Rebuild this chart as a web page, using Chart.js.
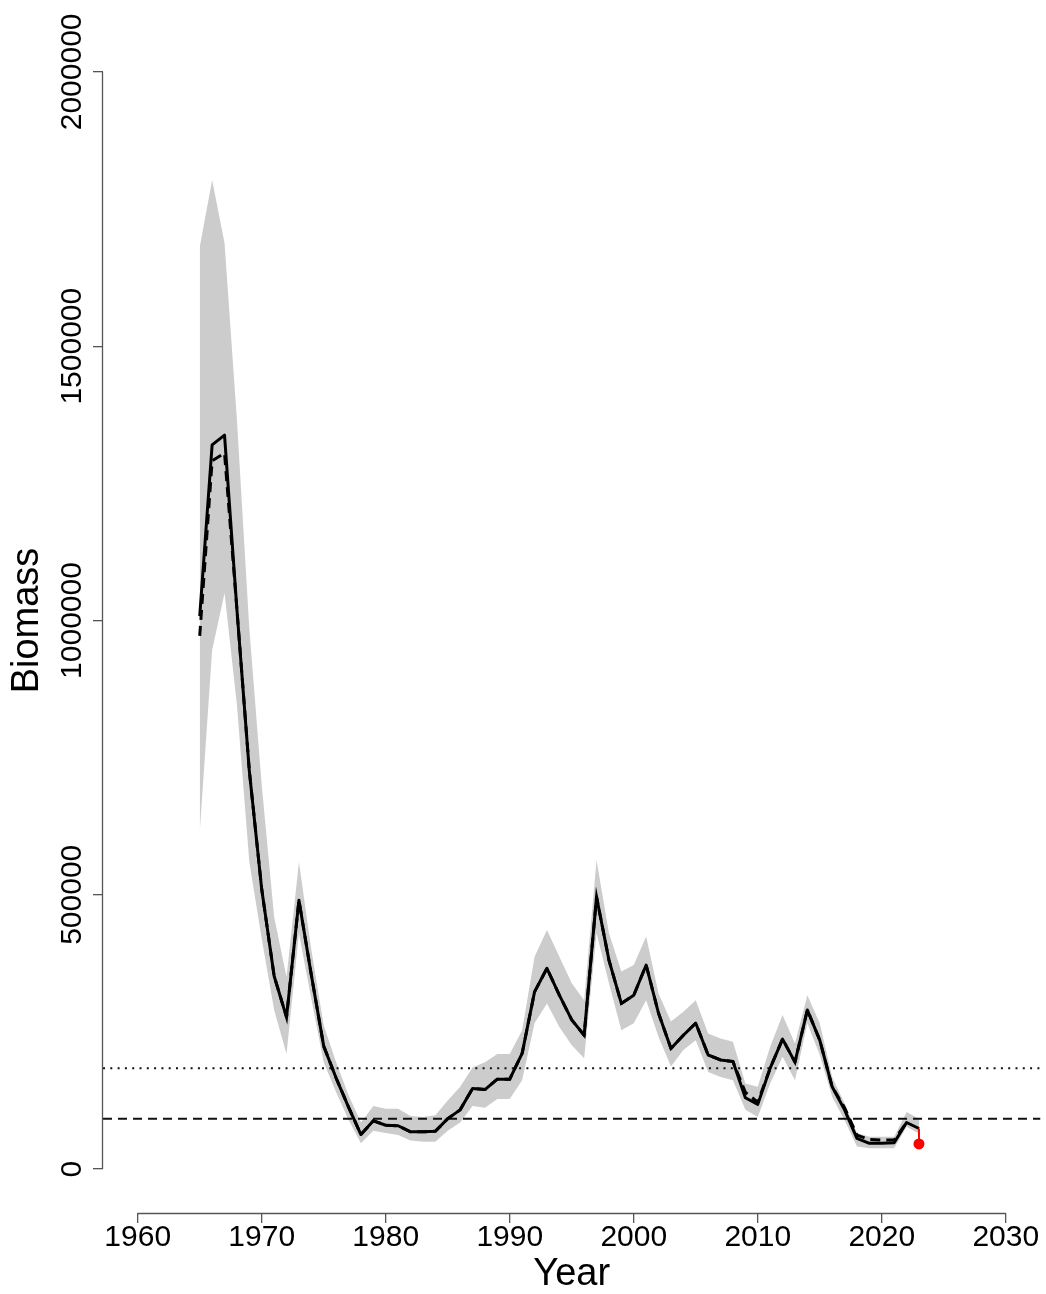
<!DOCTYPE html>
<html>
<head>
<meta charset="utf-8">
<script src="https://cdn.jsdelivr.net/npm/chart.js@4/dist/chart.umd.min.js"></script>
<style>
  html, body { margin: 0; padding: 0; background: #fff; }
  canvas { display: block; }
</style>
</head>
<body>
<canvas id="biomassChart" width="1046" height="1294"></canvas>
<script>
// Years of the assessment
const years = [1965, 1966, 1967, 1968, 1969, 1970, 1971, 1972, 1973, 1974,
  1975, 1976, 1977, 1978, 1979, 1980, 1981, 1982, 1983, 1984,
  1985, 1986, 1987, 1988, 1989, 1990, 1991, 1992, 1993, 1994,
  1995, 1996, 1997, 1998, 1999, 2000, 2001, 2002, 2003, 2004,
  2005, 2006, 2007, 2008, 2009, 2010, 2011, 2012, 2013, 2014,
  2015, 2016, 2017, 2018, 2019, 2020, 2021, 2022, 2023];

// Biomass estimate (solid line)
const biomass = [1008000, 1320000, 1338000, 1020000, 726000, 510000, 352000, 277000, 490000, 354000,
  224000, 166000, 113000, 63000, 88000, 80000, 79000, 68000, 68000, 69000,
  92000, 108000, 147000, 145000, 164000, 164000, 211000, 323000, 366000, 317000,
  272000, 244000, 496000, 381000, 302000, 317000, 372000, 284000, 220000, 244000,
  266000, 208000, 199000, 196000, 130000, 118000, 184000, 237000, 195000, 290000,
  235000, 150000, 108000, 56000, 47000, 47000, 48000, 85000, 74000];

// Upper and lower limits of the grey band
const upperCI = [1681000, 1803000, 1688000, 1366000, 985000, 700000, 460000, 350000, 560000, 400000,
  262000, 195000, 135000, 85000, 115000, 110000, 110000, 97000, 95000, 98000,
  125000, 150000, 185000, 195000, 210000, 210000, 253000, 387000, 436000, 387000,
  339000, 308000, 563000, 430000, 360000, 372000, 424000, 320000, 269000, 287000,
  308000, 247000, 238000, 232000, 156000, 150000, 223000, 281000, 229000, 317000,
  266000, 168000, 120000, 66000, 59000, 59000, 59000, 104000, 92000];
const lowerCI = [614000, 946000, 1050000, 846000, 560000, 420000, 290000, 210000, 430000, 310000,
  195000, 140000, 90000, 47000, 70000, 66000, 62000, 52000, 50000, 50000,
  70000, 85000, 115000, 112000, 128000, 128000, 162000, 266000, 302000, 259000,
  226000, 202000, 430000, 339000, 253000, 266000, 308000, 241000, 187000, 217000,
  235000, 177000, 168000, 162000, 108000, 95000, 156000, 205000, 162000, 266000,
  208000, 132000, 89000, 41000, 38000, 38000, 38000, 77000, 65000];

// Second run (dashed line), ends one year earlier
const altYears = years.slice(0, years.length - 1);
const altBiomass = [972000, 1291000, 1305000, 1020000, 726000, 510000, 352000, 277000, 490000, 354000,
  224000, 166000, 113000, 63000, 88000, 80000, 79000, 68000, 68000, 69000,
  92000, 108000, 147000, 145000, 164000, 164000, 211000, 323000, 366000, 317000,
  272000, 244000, 496000, 381000, 302000, 317000, 372000, 284000, 220000, 244000,
  266000, 208000, 199000, 196000, 140000, 122000, 184000, 237000, 195000, 290000,
  235000, 150000, 112000, 62000, 54000, 53000, 53000, 85000];

// Reference levels
const refDotted = 184000;
const refDashed = 92000;

// Projected value (red point)
const projYear = 2023;
const projValue = 46000;

// Axis ticks
const xTicks = [1960, 1970, 1980, 1990, 2000, 2010, 2020, 2030];
const yTicks = [0, 500000, 1000000, 1500000, 2000000];

const fontFamily = '"Liberation Sans", Arial, Helvetica, sans-serif';
const axisColor = '#555555';

const toPoints = (xs, ys) => xs.map((x, i) => ({ x: x, y: ys[i] }));

const xMin = 1957.2, xMax = 2032.8;
const yMin = -80000, yMax = 2080000;

// R style axes: line only between first and last tick, rotated y labels
const rAxes = {
  id: 'rAxes',
  afterDraw(chart) {
    const { ctx, chartArea, scales: { x, y } } = chart;
    ctx.save();
    ctx.strokeStyle = axisColor;
    ctx.lineWidth = 1.3;
    ctx.beginPath();
    const yb = chartArea.bottom + 0.5;
    ctx.moveTo(x.getPixelForValue(xTicks[0]), yb);
    ctx.lineTo(x.getPixelForValue(xTicks[xTicks.length - 1]), yb);
    const xl = chartArea.left - 0.5;
    ctx.moveTo(xl, y.getPixelForValue(yTicks[0]));
    ctx.lineTo(xl, y.getPixelForValue(yTicks[yTicks.length - 1]));
    ctx.stroke();

    ctx.fillStyle = '#000';
    ctx.font = '30px ' + fontFamily;
    ctx.textAlign = 'center';
    ctx.textBaseline = 'alphabetic';
    y.ticks.forEach(t => {
      const py = y.getPixelForValue(t.value);
      ctx.save();
      ctx.translate(81, py);
      ctx.rotate(-Math.PI / 2);
      ctx.fillText(String(t.value), 0, 0);
      ctx.restore();
    });
    ctx.restore();
  }
};

const ctx = document.getElementById('biomassChart').getContext('2d');
const chart = new Chart(ctx, {
  type: 'line',
  data: {
    datasets: [
      {
        // red projection segment and point
        data: [{ x: projYear, y: biomass[biomass.length - 1] }, { x: projYear, y: projValue }],
        borderColor: '#ff0000',
        backgroundColor: '#ff0000',
        borderWidth: 2,
        pointRadius: [0, 5.5],
        pointBorderWidth: 0,
        order: 0
      },
      {
        data: toPoints(years, biomass),
        borderColor: '#000',
        borderWidth: 3,
        pointRadius: 0,
        borderJoinStyle: 'round',
        order: 1
      },
      {
        data: toPoints(altYears, altBiomass),
        borderColor: '#000',
        borderWidth: 3,
        borderDash: [10, 6],
        pointRadius: 0,
        order: 2
      },
      {
        data: [{ x: xMin, y: refDotted }, { x: xMax, y: refDotted }],
        borderColor: '#111',
        borderWidth: 2,
        borderDash: [2, 5.3],
        pointRadius: 0,
        order: 3
      },
      {
        data: [{ x: xMin, y: refDashed }, { x: xMax, y: refDashed }],
        borderColor: '#111',
        borderWidth: 2,
        borderDash: [9, 6],
        pointRadius: 0,
        order: 4
      },
      {
        data: toPoints(years, upperCI),
        borderColor: 'transparent',
        borderWidth: 0,
        backgroundColor: '#cccccc',
        fill: '+1',
        pointRadius: 0,
        order: 5
      },
      {
        data: toPoints(years, lowerCI),
        borderColor: 'transparent',
        borderWidth: 0,
        pointRadius: 0,
        fill: false,
        order: 6
      }
    ]
  },
  options: {
    responsive: false,
    animation: false,
    devicePixelRatio: 1,
    layout: { padding: { top: 28, right: 4, left: 0, bottom: 0 } },
    plugins: {
      legend: { display: false },
      tooltip: { enabled: false }
    },
    elements: { line: { tension: 0 } },
    scales: {
      x: {
        type: 'linear',
        min: xMin,
        max: xMax,
        afterBuildTicks: (axis) => { axis.ticks = xTicks.map(v => ({ value: v })); },
        afterFit: (axis) => { axis.height = 81; },
        border: { display: false },
        grid: { drawOnChartArea: false, drawTicks: true, tickLength: 10, color: axisColor, lineWidth: 1.3 },
        ticks: {
          padding: 0,
          color: '#000',
          maxRotation: 0,
          autoSkip: false,
          font: { family: fontFamily, size: 30, lineHeight: 1 },
          callback: (v) => String(v)
        },
        title: {
          display: true,
          text: 'Year',
          color: '#000',
          font: { family: fontFamily, size: 38, lineHeight: 1 },
          padding: { top: 0, bottom: 0 }
        }
      },
      y: {
        type: 'linear',
        min: yMin,
        max: yMax,
        afterBuildTicks: (axis) => { axis.ticks = yTicks.map(v => ({ value: v })); },
        afterFit: (axis) => { axis.width = 103; },
        border: { display: false },
        grid: { drawOnChartArea: false, drawTicks: true, tickLength: 10, color: axisColor, lineWidth: 1.3 },
        ticks: { display: false },
        title: {
          display: true,
          text: 'Biomass',
          color: '#000',
          font: { family: fontFamily, size: 38, lineHeight: 1 },
          padding: { top: 9, bottom: 0 }
        }
      }
    }
  },
  plugins: [rAxes]
});
</script>
</body>
</html>
